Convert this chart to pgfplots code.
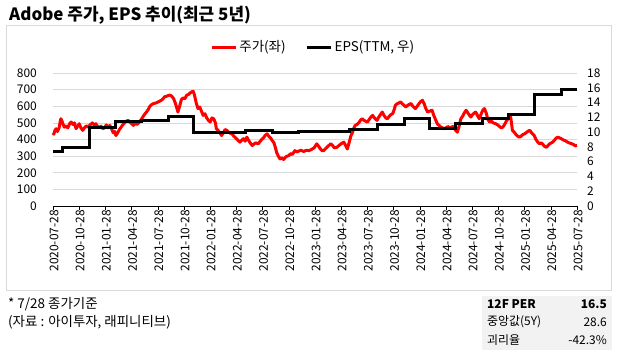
\documentclass[border=0pt]{standalone}
\usepackage{pgfplots}
\pgfplotsset{compat=1.18}
\usepackage{fontspec}
\setmainfont{Noto Sans CJK KR}
\definecolor{gridgray}{HTML}{D9D9D9}
\definecolor{framegray}{HTML}{D9D9D9}
\definecolor{boxgray}{HTML}{F2F2F2}
\definecolor{pricered}{HTML}{FF0000}
\pgfplotstableread{
m p
0.0 440
0.1 432
0.2 452
0.35 465
0.5 448
0.7 470
0.8 500
0.9 525
1.0 515
1.15 492
1.3 474
1.5 482
1.7 470
1.9 495
2.07 505
2.3 490
2.45 500
2.64 465
2.8 478
3.0 495
3.2 470
3.4 455
3.6 470
3.8 482
4.0 475
4.2 485
4.5 500
4.7 488
4.9 495
5.1 478
5.3 472
5.5 480
5.7 465
5.9 470
6.1 488
6.3 470
6.5 485
6.7 465
6.9 440
7.05 450
7.2 424
7.4 440
7.6 460
7.8 474
8.0 490
8.2 500
8.4 510
8.6 515
8.8 505
9.0 495
9.2 485
9.4 498
9.6 490
9.9 505
10.1 520
10.4 545
10.7 565
10.9 580
11.1 600
11.3 610
11.5 616
11.8 620
12.0 625
12.2 630
12.4 636
12.6 645
12.8 658
13.0 660
13.2 665
13.4 667
13.6 660
13.8 647
14.0 620
14.2 585
14.3 565
14.5 600
14.7 640
14.9 650
15.1 645
15.3 667
15.5 670
15.7 680
15.9 687
16.05 690
16.2 667
16.4 620
16.6 586
16.8 595
17.0 570
17.2 545
17.4 555
17.6 530
17.8 515
18.0 505
18.2 530
18.4 525
18.6 500
18.7 465
18.9 455
19.1 440
19.3 424
19.5 440
19.7 460
19.9 455
20.1 445
20.3 438
20.5 434
20.7 420
20.9 410
21.1 400
21.4 384
21.6 395
21.8 405
22.0 390
22.2 414
22.4 395
22.6 378
22.8 364
23.0 372
23.2 380
23.5 374
23.7 388
23.9 400
24.1 410
24.3 425
24.5 434
24.7 420
24.9 410
25.1 394
25.3 380
25.5 345
25.6 323
25.8 300
26.0 283
26.2 290
26.4 280
26.6 292
26.8 300
27.0 303
27.2 315
27.4 310
27.7 333
27.9 325
28.1 330
28.4 335
28.7 328
29.0 335
29.3 333
29.6 340
29.9 350
30.2 374
30.4 360
30.6 345
30.8 333
31.0 333
31.2 345
31.5 360
31.8 374
32.0 365
32.2 350
32.5 353
32.7 362
33.0 375
33.3 384
33.5 365
33.7 343
33.9 380
34.1 420
34.3 444
34.45 470
34.6 485
34.8 490
35.0 500
35.2 515
35.4 525
35.6 515
35.8 510
36.0 505
36.2 520
36.4 535
36.6 545
36.8 530
37.0 520
37.1 515
37.3 535
37.5 550
37.7 565
37.9 545
38.1 530
38.3 525
38.5 540
38.7 550
38.9 556
39.1 585
39.2 606
39.4 615
39.6 620
39.8 626
40.0 615
40.2 605
40.4 596
40.6 605
40.8 612
41.0 616
41.2 600
41.5 586
41.7 600
41.9 615
42.1 628
42.3 636
42.5 615
42.7 585
42.9 565
43.1 570
43.4 576
43.6 545
43.8 520
44.0 495
44.2 485
44.4 475
44.6 470
44.8 465
45.0 470
45.2 478
45.4 472
45.6 474
45.8 478
45.9 474
46.1 455
46.3 444
46.5 480
46.7 525
46.9 540
47.1 560
47.3 576
47.5 560
47.7 545
47.85 535
48.0 548
48.2 558
48.4 565
48.6 545
48.8 525
49.0 550
49.2 575
49.4 586
49.6 560
49.8 520
50.0 505
50.2 510
50.4 500
50.7 495
50.9 488
51.1 480
51.3 470
51.5 474
51.7 490
51.9 510
52.1 525
52.3 530
52.4 535
52.5 500
52.6 455
52.8 445
53.0 430
53.2 420
53.4 414
53.6 420
53.8 430
54.0 434
54.2 442
54.4 450
54.6 455
54.8 440
55.0 430
55.1 424
55.3 400
55.5 385
55.7 374
55.9 380
56.1 370
56.3 358
56.5 353
56.7 365
56.9 375
57.2 384
57.4 395
57.6 408
57.8 414
58.0 410
58.2 405
58.4 398
58.6 394
58.8 388
59.0 382
59.2 378
59.4 374
59.6 370
59.8 362
60.0 364
}\price
\pgfplotstableread{
m e
0.0 7.4
1.1 7.95
4.2 10.68
7.1 11.5
10.1 11.6
13.2 12.1
16.05 9.9
19.1 9.95
22.0 10.23
25.1 10.0
28.1 10.05
31.0 10.1
34.0 10.36
37.1 11.05
40.2 11.8
43.1 10.46
46.1 11.14
49.2 11.8
52.1 12.4
55.1 15.14
58.2 15.7
60.0 15.7
}\eps
\begin{document}
\begin{tikzpicture}[x=1bp,y=1bp]
\useasboundingbox (0,0) rectangle (617,356);
\fill[white] (0,0) rectangle (617,356);
\draw[framegray, line width=0.75bp] (6,66) rectangle (611,331);
\node[anchor=base west, inner sep=0, font=\fontsize{17}{20}\selectfont\bfseries] at (9,336) {Adobe 주가, EPS 추이(최근 5년)};
\node[anchor=west, inner sep=0, font=\fontsize{13.5}{15}\selectfont] at (8,52) {* 7/28 종가기준};
\node[anchor=west, inner sep=0, font=\fontsize{13.5}{15}\selectfont] at (8,34) {(자료 : 아이투자, 래피니티브)};
\fill[boxgray] (482,6) rectangle (612,60);
\node[anchor=west, inner sep=0, font=\fontsize{12}{14}\selectfont\bfseries] at (487,52) {12F PER};
\node[anchor=east, inner sep=0, font=\fontsize{12}{14}\selectfont\bfseries] at (607,52) {16.5};
\node[anchor=west, inner sep=0, font=\fontsize{12}{14}\selectfont] at (487,34) {중앙값(5Y)};
\node[anchor=east, inner sep=0, font=\fontsize{12}{14}\selectfont] at (607,34) {28.6};
\node[anchor=west, inner sep=0, font=\fontsize{12}{14}\selectfont] at (487,16) {괴리율};
\node[anchor=east, inner sep=0, font=\fontsize{12}{14}\selectfont] at (607,16) {-42.3\%};
\begin{axis}[
  at={(53bp,150bp)}, anchor=south west,
  scale only axis, width=524bp, height=133bp,
  xmin=0, xmax=60, ymin=0, ymax=800,
  axis x line*=bottom, axis y line*=left,
  y axis line style={draw=none},
  x axis line style={black, line width=0.8bp},
  ytick={0,100,...,800},
  ytick style={draw=none},
  xtick={0,3,...,60},
  xtick style={black, line width=0.6bp},
  tick align=outside,
  major tick length=4bp,
  xticklabels={2020-07-28,2020-10-28,2021-01-28,2021-04-28,2021-07-28,2021-10-28,2022-01-28,2022-04-28,2022-07-28,2022-10-28,2023-01-28,2023-04-28,2023-07-28,2023-10-28,2024-01-28,2024-04-28,2024-07-28,2024-10-28,2025-01-28,2025-04-28,2025-07-28},
  xticklabel style={rotate=90, anchor=east, inner sep=0pt, font=\fontsize{12}{13}\selectfont, yshift=-1bp},
  yticklabel style={anchor=east, inner sep=0pt, font=\fontsize{12}{13}\selectfont},
  yticklabel shift=12bp,
  /pgf/number format/assume math mode=true,
  ymajorgrids, grid style={gridgray, line width=0.75bp},
  clip=false,
]
\addplot[pricered, line width=3bp, line join=round] table[x=m, y=p] {\price};
\end{axis}
\begin{axis}[
  at={(53bp,150bp)}, anchor=south west,
  scale only axis, width=524bp, height=133bp,
  xmin=0, xmax=60, ymin=0, ymax=18,
  axis x line=none, axis y line*=right,
  y axis line style={draw=none},
  ytick={0,2,...,18},
  ytick style={draw=none},
  yticklabel style={anchor=west, inner sep=0pt, font=\fontsize{12}{13}\selectfont},
  yticklabel shift=10bp,
  /pgf/number format/assume math mode=true,
  legend style={at={(0.30,1.195)}, anchor=west, draw=none, fill=none, font=\fontsize{13.5}{15}\selectfont, legend columns=2, /tikz/every even column/.append style={column sep=18bp}, inner sep=0pt},
  legend image code/.code={\draw[#1, line width=3bp] (0bp,0bp) -- (24bp,0bp);},
  clip=false,
]
\addlegendimage{pricered}
\addlegendentry{주가(좌)}
\addplot[black, line width=3bp, const plot] table[x=m, y=e] {\eps};
\addlegendentry{EPS(TTM, 우)}
\end{axis}
\end{tikzpicture}
\end{document}
